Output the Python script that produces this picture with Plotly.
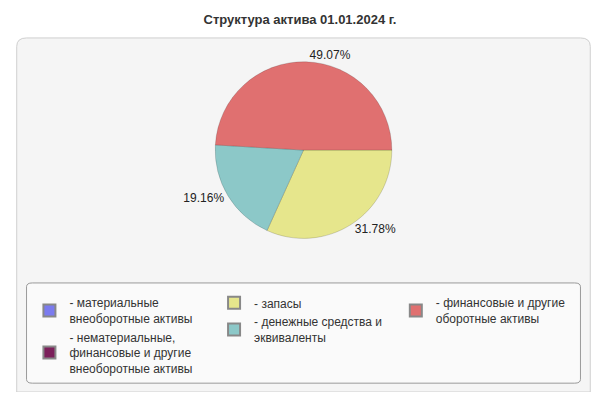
import plotly.graph_objects as go

labels = ["- материальные<br>внеоборотные активы",
          "- нематериальные,<br>финансовые и другие<br>внеоборотные активы",
          "- запасы",
          "- денежные средства и<br>эквиваленты",
          "- финансовые и другие<br>оборотные активы"]
values = [0.0, 0.0, 31.78, 19.16, 49.07]
colors = ["#7b7bef", "#7b1f5a", "#e6e68c", "#8cc8c8", "#e07070"]
legend_groups = ["legend", "legend", "legend2", "legend2", "legend3"]

texts = [f"{v:.2f}%" if v > 0 else "" for v in values]

fig = go.Figure()
fig.add_trace(go.Pie(
    labels=labels, values=values, text=texts, textinfo="text",
    textposition="outside", sort=False, direction="clockwise", rotation=90,
    marker=dict(colors=colors, line=dict(color="rgba(0,0,0,0.15)", width=1)),
    showlegend=False, hoverinfo="skip",
    textfont=dict(size=12, color="#222"),
    domain=dict(x=[0.2, 0.8], y=[0.40, 0.86]),
))
for lab, col, lg in zip(labels, colors, legend_groups):
    fig.add_trace(go.Scatter(
        x=[None], y=[None], mode="markers", name=lab, legend=lg,
        marker=dict(symbol="square", size=10, color=col,
                    line=dict(color="#888", width=1)),
    ))

leg = dict(bgcolor="rgba(0,0,0,0)", font=dict(size=12, color="#333"),
           yanchor="top", y=0.27, tracegroupgap=0, itemsizing="constant")
fig.update_layout(
    width=584, height=384, margin=dict(l=0, r=0, t=0, b=0),
    paper_bgcolor="white", plot_bgcolor="rgba(0,0,0,0)",
    font=dict(family="Liberation Sans, Arial", size=12, color="#333"),
    title=dict(text="<b>Структура актива 01.01.2024 г.</b>", x=0.5, y=0.97,
               xanchor="center", yanchor="middle", font=dict(size=13, color="#333")),
    xaxis=dict(visible=False), yaxis=dict(visible=False),
    legend=dict(x=0.025, **leg),
    legend2=dict(x=0.345, **leg),
    legend3=dict(x=0.66, **leg),
    shapes=[
        dict(type="path", xref="paper", yref="paper",
             path="M 0.003,0.90 Q 0.003,0.922 0.02,0.922 L 0.98,0.922 Q 0.997,0.922 0.997,0.90 "
                  "L 0.997,0.0 L 0.003,0.0 Z",
             line=dict(color="#cfcfcf", width=1), fillcolor="#f5f5f5", layer="below"),
        dict(type="path", xref="paper", yref="paper",
             path="M 0.02,0.274 Q 0.02,0.284 0.03,0.284 L 0.97,0.284 Q 0.98,0.284 0.98,0.274 "
                  "L 0.98,0.033 Q 0.98,0.023 0.97,0.023 L 0.03,0.023 Q 0.02,0.023 0.02,0.033 Z",
             line=dict(color="#999", width=1), fillcolor="#fafafa", layer="below"),
    ],
)
fig.write_html("out.html")
